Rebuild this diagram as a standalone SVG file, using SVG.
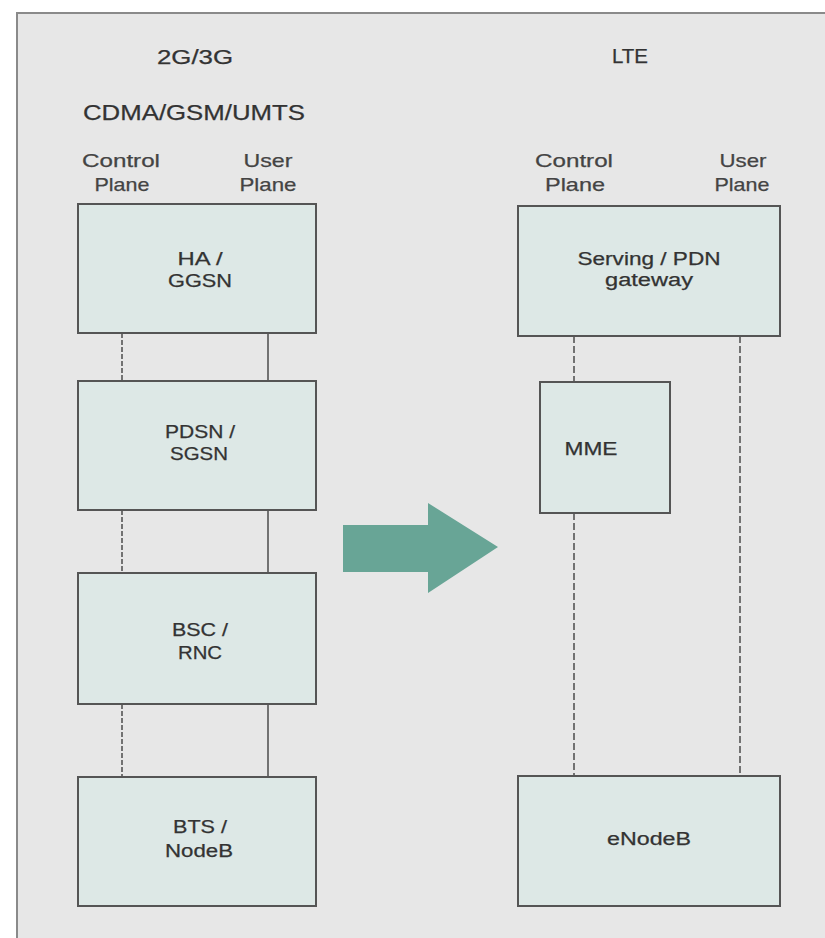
<svg xmlns="http://www.w3.org/2000/svg" width="825" height="938" viewBox="0 0 825 938">
<style>
  .bg { fill: #e7e7e7; stroke: #8a8a8a; stroke-width: 2; }
  .box { fill: #dde8e6; stroke: #555555; stroke-width: 2; }
  .t { font-family: "Liberation Sans", Arial, sans-serif; fill: #333333; text-anchor: middle; stroke: #333333; stroke-width: 0.25; }
  .h { font-size: 20px; }
  .p { font-size: 19px; fill: #444444; stroke: #444444; }
  .l { font-size: 18px; }
  .solid { stroke: #555; stroke-width: 1.6; fill: none; }
  .dash { stroke: #555; stroke-width: 1.6; fill: none; stroke-dasharray: 5 2; }
  .dash2 { stroke: #555; stroke-width: 1.6; fill: none; stroke-dasharray: 7 3; }
</style>
<rect x="0" y="0" width="825" height="938" fill="#ffffff"/>
<rect class="bg" x="17" y="13" width="830" height="940"/>

<g id="headers">
  <text class="t h" x="195" y="64" textLength="76" lengthAdjust="spacingAndGlyphs">2G/3G</text>
  <text class="t h" x="194" y="120" textLength="222" lengthAdjust="spacingAndGlyphs" style="font-size:22px">CDMA/GSM/UMTS</text>
  <text class="t h" x="630" y="63" textLength="36" lengthAdjust="spacingAndGlyphs">LTE</text>
  <text class="t p" x="121" y="167" textLength="78" lengthAdjust="spacingAndGlyphs">Control</text>
  <text class="t p" x="122" y="191" textLength="55" lengthAdjust="spacingAndGlyphs">Plane</text>
  <text class="t p" x="268" y="167" textLength="49" lengthAdjust="spacingAndGlyphs">User</text>
  <text class="t p" x="268" y="191" textLength="57" lengthAdjust="spacingAndGlyphs">Plane</text>
  <text class="t p" x="574" y="167" textLength="78" lengthAdjust="spacingAndGlyphs">Control</text>
  <text class="t p" x="575" y="191" textLength="60" lengthAdjust="spacingAndGlyphs">Plane</text>
  <text class="t p" x="743" y="167" textLength="47" lengthAdjust="spacingAndGlyphs">User</text>
  <text class="t p" x="742" y="191" textLength="55" lengthAdjust="spacingAndGlyphs">Plane</text>
</g>

<g id="connectors">
  <line class="dash" x1="122" y1="333" x2="122" y2="381"/>
  <line class="solid" x1="268" y1="333" x2="268" y2="381"/>
  <line class="dash" x1="122" y1="510" x2="122" y2="573"/>
  <line class="solid" x1="268" y1="510" x2="268" y2="573"/>
  <line class="dash" x1="122" y1="704" x2="122" y2="777"/>
  <line class="solid" x1="268" y1="704" x2="268" y2="777"/>
  <line class="dash2" x1="574" y1="336" x2="574" y2="382"/>
  <line class="dash2" x1="574" y1="513" x2="574" y2="776"/>
  <line class="dash2" x1="740" y1="336" x2="740" y2="776"/>
</g>

<g id="ha-ggsn">
  <rect class="box" x="78" y="204" width="238" height="129"/>
  <text class="t l" x="200" y="265" textLength="45" lengthAdjust="spacingAndGlyphs">HA /</text>
  <text class="t l" x="200" y="287" textLength="64" lengthAdjust="spacingAndGlyphs">GGSN</text>
</g>
<g id="pdsn-sgsn">
  <rect class="box" x="78" y="381" width="238" height="129"/>
  <text class="t l" x="200" y="438" textLength="70" lengthAdjust="spacingAndGlyphs">PDSN /</text>
  <text class="t l" x="199" y="460" textLength="58" lengthAdjust="spacingAndGlyphs">SGSN</text>
</g>
<g id="bsc-rnc">
  <rect class="box" x="78" y="573" width="238" height="131"/>
  <text class="t l" x="200" y="636" textLength="56" lengthAdjust="spacingAndGlyphs">BSC /</text>
  <text class="t l" x="200" y="659" textLength="44" lengthAdjust="spacingAndGlyphs">RNC</text>
</g>
<g id="bts-nodeb">
  <rect class="box" x="78" y="777" width="238" height="129"/>
  <text class="t l" x="200" y="833" textLength="54" lengthAdjust="spacingAndGlyphs">BTS /</text>
  <text class="t l" x="199" y="857" textLength="68" lengthAdjust="spacingAndGlyphs">NodeB</text>
</g>

<g id="serving-pdn-gateway">
  <rect class="box" x="518" y="206" width="262" height="130"/>
  <text class="t l" x="649" y="265" textLength="143" lengthAdjust="spacingAndGlyphs">Serving / PDN</text>
  <text class="t l" x="649" y="286" textLength="88" lengthAdjust="spacingAndGlyphs">gateway</text>
</g>
<g id="mme">
  <rect class="box" x="540" y="382" width="130" height="131"/>
  <text class="t l" x="591" y="455" textLength="53" lengthAdjust="spacingAndGlyphs">MME</text>
</g>
<g id="enodeb">
  <rect class="box" x="518" y="776" width="262" height="130"/>
  <text class="t l" x="649" y="845" textLength="84" lengthAdjust="spacingAndGlyphs">eNodeB</text>
</g>

<g id="arrow">
  <polygon points="343,525 428,525 428,503 498,547 428,593 428,572 343,572" fill="#68a596"/>
</g>
</svg>
